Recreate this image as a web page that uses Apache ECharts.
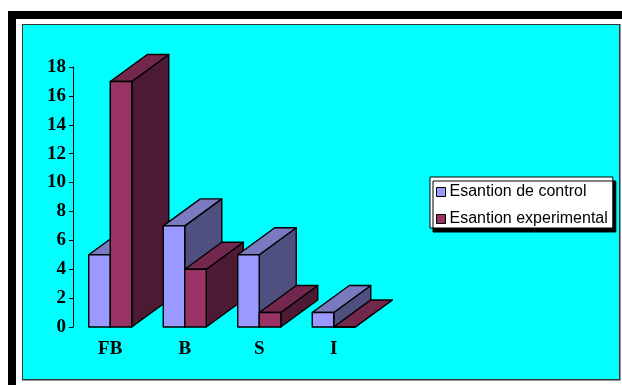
<!DOCTYPE html>
<html><head><meta charset="utf-8">
<style>html,body{margin:0;padding:0;background:#fff}#c{width:622px;height:385px}</style>
<script src="https://cdn.jsdelivr.net/npm/echarts@6/dist/echarts.min.js"></script></head>
<body><div id="c"></div>
<script>
const categories = ['FB', 'B', 'S', 'I'];
const controlValues = [5, 7, 5, 1];
const experimentalValues = [17, 4, 1, 0];
const seriesNames = ['Esantion de control', 'Esantion experimental'];
const yTicks = [0, 18];

const chart = echarts.init(document.getElementById('c'), null, {renderer: 'canvas'});
const DX = 37, DY = -27, BAR = 21.5;
function box(side, front, top, right) {
  return function (params, api) {
    const cat = api.value(0), val = api.value(1);
    const base = api.coord([cat, 0]);
    const tip = api.coord([cat, val]);
    const x0 = base[0] + side * BAR, x1 = x0 + BAR, yb = base[1], yt = tip[1];
    const z = cat * 10 + (side === -1 ? 0 : 5);
    const st = c => ({fill: c, stroke: '#000', lineWidth: 1.4, lineJoin: 'round'});
    const poly = (pts, c, k) => ({type: 'polygon', z2: z + k, shape: {points: pts}, style: st(c)});
    return {type: 'group', children: [
      poly([[x1, yb], [x1 + DX, yb + DY], [x1 + DX, yt + DY], [x1, yt]], right, 0),
      poly([[x0, yt], [x0 + DX, yt + DY], [x1 + DX, yt + DY], [x1, yt]], top, 1),
      poly([[x0, yb], [x1, yb], [x1, yt], [x0, yt]], front, 2)
    ]};
  };
}
chart.setOption({
  animation: false,
  backgroundColor: '#fff',
  graphic: [
    {type: 'rect', z: -10, silent: true, shape: {x: 8, y: 11, width: 614, height: 374}, style: {fill: '#000'}},
    {type: 'rect', z: -9, silent: true, shape: {x: 16, y: 19, width: 606, height: 366}, style: {fill: '#fff'}},
    {type: 'rect', z: -8, silent: true, shape: {x: 22, y: 24, width: 598.5, height: 356.5}, style: {fill: '#333'}},
    {type: 'rect', z: -7, silent: true, shape: {x: 23, y: 25, width: 596, height: 354}, style: {fill: '#00ffff'}}
  ],
  grid: {left: 73, top: 67, width: 298, height: 260, containLabel: false},
  xAxis: {type: 'category', data: categories,
    axisLine: {show: false}, axisTick: {show: false},
    axisLabel: {fontFamily: 'Liberation Serif', fontWeight: 'bold', fontSize: 19, color: '#000', margin: 13}},
  yAxis: {type: 'value', min: yTicks[0], max: yTicks[1], interval: 2,
    splitLine: {show: false},
    axisLine: {show: true, lineStyle: {color: '#000', width: 1}},
    axisTick: {show: true, length: 4, lineStyle: {color: '#000'}},
    axisLabel: {fontFamily: 'Liberation Serif', fontWeight: 'bold', fontSize: 19, color: '#000', margin: 7}},
  legend: {orient: 'vertical', left: 430, top: 177,
    padding: [7, 5, 1, 6], itemGap: 11, itemWidth: 9, itemHeight: 9, icon: 'rect',
    backgroundColor: '#fff', borderColor: '#000', borderWidth: 1,
    shadowColor: '#000', shadowBlur: 0, shadowOffsetX: 3, shadowOffsetY: 4,
    textStyle: {fontFamily: 'Liberation Sans', fontSize: 16, color: '#000', padding: [0, 0, 0, -1]},
    data: seriesNames.map(n => ({name: n, itemStyle: {borderColor: '#000', borderWidth: 1}}))},
  series: [
    {type: 'custom', name: seriesNames[0], coordinateSystem: 'cartesian2d', clip: false,
     itemStyle: {color: '#9999ff'},
     renderItem: box(-1, '#9999ff', '#7a7ac0', '#4f4f80'),
     encode: {x: 0, y: 1}, data: controlValues.map((v, i) => [i, v])},
    {type: 'custom', name: seriesNames[1], coordinateSystem: 'cartesian2d', clip: false,
     itemStyle: {color: '#993366'},
     renderItem: box(0, '#993366', '#72274d', '#4c1a33'),
     encode: {x: 0, y: 1}, data: experimentalValues.map((v, i) => [i, v])}
  ]
});
</script></body></html>
